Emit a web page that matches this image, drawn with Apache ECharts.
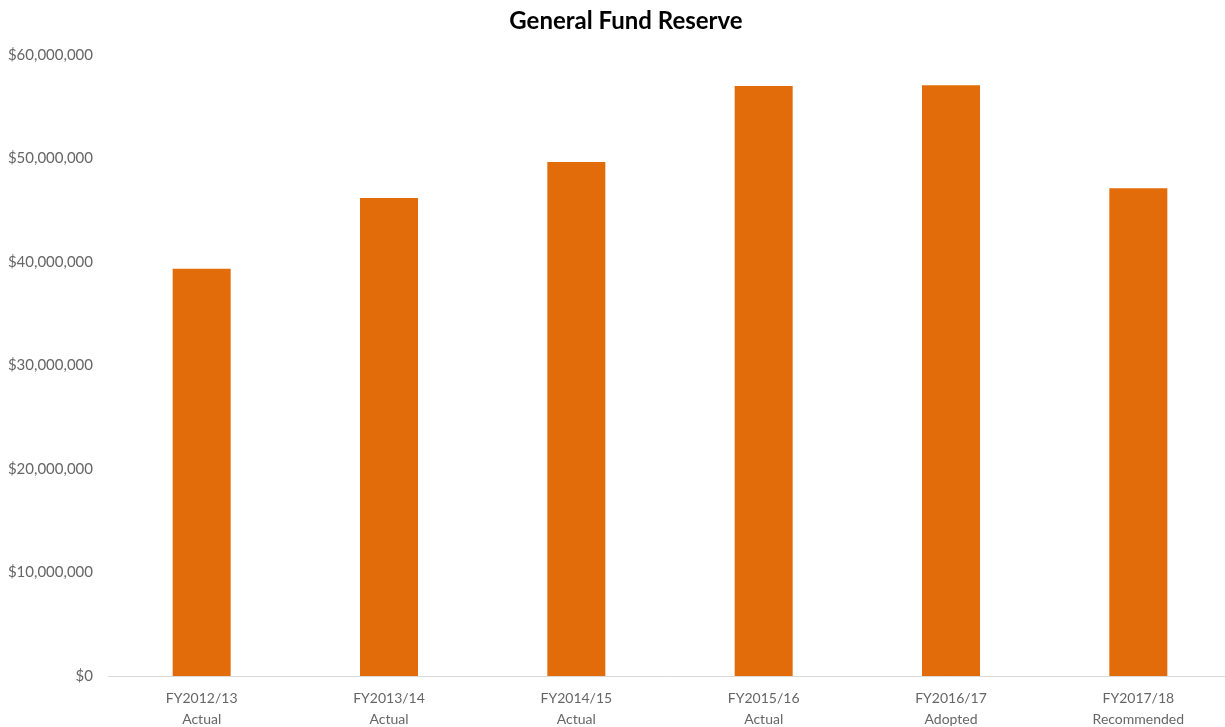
<!DOCTYPE html>
<html>
<head>
<meta charset="utf-8">
<script src="https://cdn.jsdelivr.net/npm/echarts@6/dist/echarts.min.js"></script>
<style>
  html, body { margin: 0; padding: 0; background: #fff; }
  #chart { width: 1225px; height: 727px; }
</style>
</head>
<body>
<div id="chart"></div>
<script>
// Fiscal years and their status
const categories = [
  'FY2012/13\nActual',
  'FY2013/14\nActual',
  'FY2014/15\nActual',
  'FY2015/16\nActual',
  'FY2016/17\nAdopted',
  'FY2017/18\nRecommended'
];
// General Fund reserve balance in dollars
const reserveValues = [39350000, 46180000, 49660000, 57000000, 57070000, 47120000];

const fontFamily = 'Lato, "Open Sans", "Noto Sans", sans-serif';

const chart = echarts.init(document.getElementById('chart'), null, { renderer: 'canvas' });

function money(v) {
  return '$' + Math.round(v).toString().replace(/\B(?=(\d{3})+(?!\d))/g, ',');
}

chart.setOption({
  animation: false,
  backgroundColor: '#ffffff',
  title: {
    text: 'General Fund Reserve',
    left: 621,
    top: 4,
    textAlign: 'center',
    textStyle: { fontFamily: fontFamily, fontWeight: 'bold', fontSize: 24, color: '#000000' }
  },
  // plot area runs slightly past the right edge of the canvas
  grid: { left: 108, top: 55, width: 1124, height: 621, containLabel: false, outerBoundsMode: 'none' },
  xAxis: {
    type: 'category',
    data: categories,
    axisLine: { show: true, lineStyle: { color: '#d9d9d9', width: 1 } },
    axisTick: { show: false },
    axisLabel: {
      color: '#666666',
      fontFamily: fontFamily,
      fontSize: 14,
      lineHeight: 21,
      margin: 12
    }
  },
  yAxis: {
    type: 'value',
    min: 0,
    max: 60000000,
    interval: 10000000,
    splitLine: { show: false },
    axisLine: { show: false },
    axisTick: { show: false },
    axisLabel: {
      color: '#666666',
      fontFamily: fontFamily,
      fontSize: 15,
      margin: 15,
      formatter: money
    }
  },
  series: [{
    type: 'bar',
    data: reserveValues,
    barWidth: 58,
    itemStyle: { color: '#E36C0A' }
  }]
});
</script>
</body>
</html>
